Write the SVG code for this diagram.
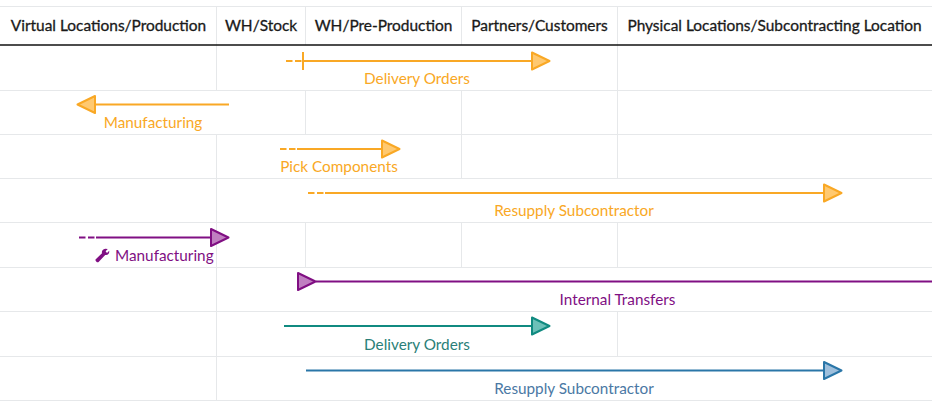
<svg xmlns="http://www.w3.org/2000/svg" width="932" height="411" viewBox="0 0 932 411">
<style>
text{font-family:Lato,"Open Sans","Liberation Sans",sans-serif;font-size:15.3px}
.h{font-size:15.45px;fill:#1a1a1a;stroke:#1a1a1a;stroke-width:.3;text-anchor:middle}
.g{stroke:#e6e8ea;stroke-width:1;fill:none}
.l{text-anchor:middle}
.o{stroke:#f9a825;fill:#ffc970}.ot{fill:#f9a825}
.p{stroke:#800f83;fill:#c07fc1}.pt{fill:#800f83}
.t{stroke:#108a80;fill:#6cc0b8}.tt{fill:#2a7f78}
.b{stroke:#2a76a8;fill:#9ebfdc}.bt{fill:#4a78a4}
.w{stroke-width:2;fill:none}
.a{stroke-width:2;stroke-linejoin:round}
.d{stroke-dasharray:6.500 2.500}
</style>
<rect width="932" height="411" fill="#fff"/>
<g id="grid">
<path class="g" d="M0 6.500H932M0 90.500H932M0 134.500H932M0 178.500H932M0 222.500H932M0 267.500H932M0 311.500H932M0 356.500H932M0 400.500H932"/>
<path class="g" d="M216.500 6V45M305.500 6V45M461.500 6V45M617.500 6V45M216.500 45V90M617.500 45V134M305.500 90V134M461.500 90V134M216.500 134V178M461.500 134V178M617.500 134V178M216.500 178V311M305.500 222V267M461.500 222V267M617.500 222V267M216.500 311V400M617.500 311V356"/>
<path d="M0 45H932" stroke="#111" stroke-width="1.500" fill="none"/>
</g>
<g id="header">
<text class="h" x="108.500" y="31">Virtual Locations/Production</text>
<text class="h" x="261" y="31">WH/Stock</text>
<text class="h" x="383.500" y="31">WH/Pre-Production</text>
<text class="h" x="539.500" y="31">Partners/Customers</text>
<text class="h" x="774.500" y="31">Physical Locations/Subcontracting Location</text>
</g>
<g id="connectors">
<g id="c1"><path class="o w d" d="M286 61H301.500"/><path class="o w" d="M303 52V70"/><path class="o w" d="M303 61H532"/><path class="o a" d="M532 52.500L549.500 61L532 69.500Z"/></g>
<g id="c2"><path class="o w" d="M229 104.500H95"/><path class="o a" d="M95 96L77.500 104.500L95 113Z"/></g>
<g id="c3"><path class="o w d" d="M280 149H295.500"/><path class="o w" d="M297 149H382"/><path class="o a" d="M382 140.500L399.500 149L382 157.500Z"/></g>
<g id="c4"><path class="o w d" d="M308 193H323.500"/><path class="o w" d="M325 193H824"/><path class="o a" d="M824 184.500L841.500 193L824 201.500Z"/></g>
<g id="c5"><path class="p w d" d="M79 237.500H94.500"/><path class="p w" d="M96 237.500H211"/><path class="p a" d="M211 229L228.500 237.500L211 246Z"/></g>
<g id="c6"><path class="p w" d="M316 281.500H932"/><path class="p a" d="M298 273L315.500 281.500L298 290Z"/></g>
<g id="c7"><path class="t w" d="M284 326H532"/><path class="t a" d="M532 317.500L549.500 326L532 334.500Z"/></g>
<g id="c8"><path class="b w" d="M306 370.500H824"/><path class="b a" d="M824 362L841.500 370.500L824 379Z"/></g>
</g>
<g id="n1"><text class="l ot" x="417" y="84">Delivery Orders</text></g>
<g id="n2"><text class="l ot" x="153" y="128">Manufacturing</text></g>
<g id="n3"><text class="l ot" x="339" y="172">Pick Components</text></g>
<g id="n4"><text class="l ot" x="574" y="216">Resupply Subcontractor</text></g>
<g id="n5"><path class="pt" d="M95.500 259.500L102 253.200C101.400 251 102.800 249 105.200 248.700L107.800 249L105.600 251.200L107 253L109.200 250.800C109.600 253.600 107.800 255.600 105.200 255L98.600 262C97.400 263 95 261 95.500 259.500Z"/><text class="pt" x="115" y="261">Manufacturing</text></g>
<g id="n6"><text class="l pt" x="617.500" y="305">Internal Transfers</text></g>
<g id="n7"><text class="l tt" x="417" y="349.500">Delivery Orders</text></g>
<g id="n8"><text class="l bt" x="574" y="393.500">Resupply Subcontractor</text></g>
</svg>
